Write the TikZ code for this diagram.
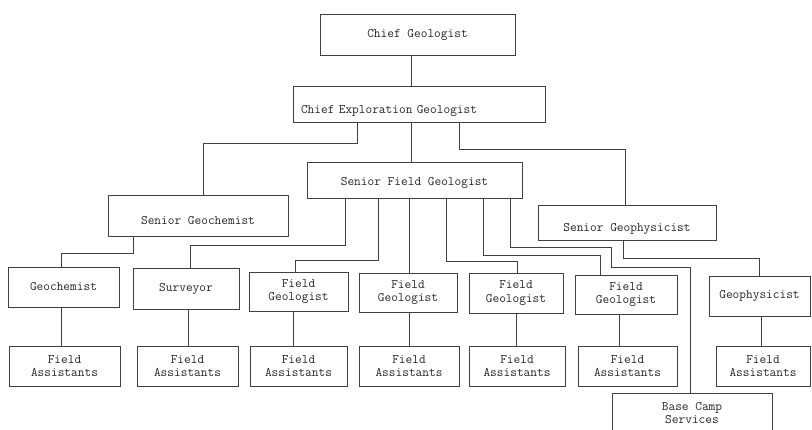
\documentclass[tikz,border=0pt]{standalone}
\usepackage{fontspec}
\usepackage{tikz}
\usetikzlibrary{positioning, calc}
\newcommand{\orgfont}{\ttfamily\fontsize{13}{13.5}\selectfont}
\colorlet{colLine}{black!75}
\tikzset{
	orgbox/.style={draw=colLine, line width=0.7pt, align=center, inner sep=2pt, outer sep=0pt, font=\orgfont, text=black!85},
	lowtext/.style={text height=#1, text depth=0pt},
	orglink/.style={draw=colLine, line width=0.7pt},
}

\begin{document}
\begin{tikzpicture}[x=1pt, y=-1pt]
	\useasboundingbox (0,0) rectangle (812,430);

	% Head of the chart
	\node[orgbox, minimum width=195pt, minimum height=41pt] (chief) at (417.5,34.5) {Chief Geologist};
	\node[orgbox, lowtext=19pt, minimum width=252pt, minimum height=36pt, text width=236pt, align=left] (cexp) at (419,104) {Chief Exploration Geologist};

	% Senior staff
	\node[orgbox, lowtext=19pt, minimum width=180pt, minimum height=41pt] (sgc) at (198,215.5) {Senior Geochemist};
	\node[orgbox, lowtext=12pt, minimum width=215pt, minimum height=36pt] (sfg) at (414.5,180) {Senior Field Geologist};
	\node[orgbox, lowtext=19pt, minimum width=178pt, minimum height=35pt] (sgp) at (627,222.5) {Senior Geophysicist};

	% Field staff
	\node[orgbox, minimum width=111pt, minimum height=40pt] (gc) at (63.5,287) {Geochemist};
	\node[orgbox, minimum width=106pt, minimum height=41pt] (sur) at (186,288.5) {Surveyor};
	\node[orgbox, minimum width=99pt, minimum height=39pt] (fg1) at (298.5,291.5) {Field\\Geologist};
	\node[orgbox, minimum width=98pt, minimum height=39pt] (fg2) at (408,292.5) {Field\\Geologist};
	\node[orgbox, minimum width=94pt, minimum height=40pt] (fg3) at (516,293) {Field\\Geologist};
	\node[orgbox, minimum width=102pt, minimum height=39pt] (fg4) at (626,294.5) {Field\\Geologist};
	\node[orgbox, minimum width=101pt, minimum height=40pt] (gp) at (759.5,296) {Geophysicist};

	% Assistants
	\node[orgbox, minimum width=111pt, minimum height=40pt] (fa1) at (64.5,366) {Field\\Assistants};
	\node[orgbox, minimum width=101pt, minimum height=40pt] (fa2) at (187.5,366) {Field\\Assistants};
	\node[orgbox, minimum width=97pt, minimum height=40pt] (fa3) at (298.5,366) {Field\\Assistants};
	\node[orgbox, minimum width=100pt, minimum height=40pt] (fa4) at (409,366) {Field\\Assistants};
	\node[orgbox, minimum width=96pt, minimum height=40pt] (fa5) at (517,366) {Field\\Assistants};
	\node[orgbox, minimum width=99pt, minimum height=40pt] (fa6) at (627.5,366) {Field\\Assistants};
	\node[orgbox, minimum width=94pt, minimum height=40pt] (fa7) at (763,366) {Field\\Assistants};
	\node[orgbox, minimum width=160pt, minimum height=40pt] (base) at (692,413) {Base Camp\\Services};

	% Links from the head
	\draw[orglink] ([xshift=-6pt]chief.south) |- (cexp.north);
	\draw[orglink] ([xshift=-62pt]cexp.south) -- ++(0,21) -| ([xshift=5pt]sgc.north);
	\draw[orglink] ([xshift=-8pt]cexp.south) |- (sfg.north);
	\draw[orglink] ([xshift=40pt]cexp.south) -- ++(0,27) -| ([xshift=-2pt]sgp.north);

	% Links from the seniors
	\draw[orglink] ([xshift=-65pt]sgc.south) -- ++(0,17) -| ([xshift=-2.5pt]gc.north);
	\draw[orglink] ([xshift=-69.5pt]sfg.south) -- ++(0,47) -| ([xshift=4pt]sur.north);
	\draw[orglink] ([xshift=-36.5pt]sfg.south) -- ++(0,62) -| ([xshift=-3.5pt]fg1.north);
	\draw[orglink] ([xshift=-5.5pt]sfg.south) |- (fg2.north);
	\draw[orglink] ([xshift=31.5pt]sfg.south) -- ++(0,63) -| ([xshift=1pt]fg3.north);
	\draw[orglink] ([xshift=68.5pt]sfg.south) -- ++(0,57) -| ([xshift=-26pt]fg4.north);
	\draw[orglink] ([xshift=95.5pt]sfg.south) -- ++(0,49) -- ++(101,0) -- ++(0,20) -| ([xshift=-2pt]base.north);
	\draw[orglink] ([xshift=-4pt]sgp.south) -- ++(0,18) -| (gp.north);

	% Links to the assistants
	\draw[orglink] ([xshift=-2.5pt]gc.south) |- (fa1.north);
	\draw[orglink] ([xshift=2pt]sur.south) |- (fa2.north);
	\draw[orglink] ([xshift=-5.5pt]fg1.south) |- (fa3.north);
	\draw[orglink] ([xshift=1pt]fg2.south) |- (fa4.north);
	\draw[orglink] (fg3.south) |- (fa5.north);
	\draw[orglink] ([xshift=-7pt]fg4.south) |- (fa6.north);
	\draw[orglink] ([xshift=1.5pt]gp.south) |- (fa7.north);
\end{tikzpicture}
\end{document}
